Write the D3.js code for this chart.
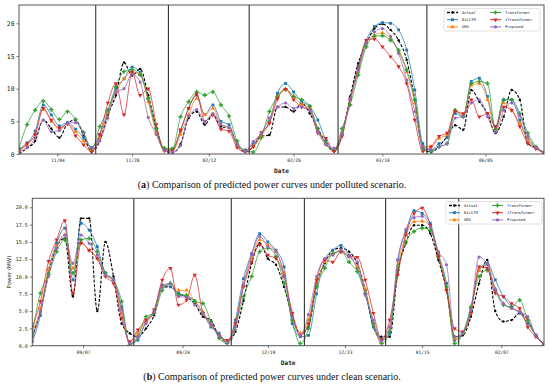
<!DOCTYPE html>
<html>
<head>
<meta charset="utf-8">
<script src="https://cdnjs.cloudflare.com/ajax/libs/d3/7.8.5/d3.min.js"></script>
<style>
  body { margin: 0; background: #fff; }
  svg { display: block; }
</style>
</head>
<body>
<div id="chart"></div>
<script>
var svgWidth = 550;
var svgHeight = 389;

// day labels of each panel
var datesA = ["11/04", "11/28", "02/12", "02/26", "03/10", "06/05"];
var datesB = ["09/07", "09/24", "12/19", "12/23", "01/15", "02/07"];

// (a) polluted scenario, one sub array per day
var actualA = [
  [0.0, 0.9, 2.0, 5.2, 3.9, 2.5, 4.7, 5.2, 2.8, 0.4],
  [2.0, 6.0, 9.0, 14.0, 12.0, 13.0, 9.0, 4.0, 0.5],
  [0.2, 1.5, 5.5, 6.5, 4.5, 6.0, 4.2, 4.0, 1.5, 0.3],
  [1.1, 2.7, 2.9, 7.2, 7.2, 6.5, 7.8, 6.2, 3.9, 1.6, 0.4],
  [3.0, 8.8, 13.9, 16.9, 19.2, 19.9, 19.0, 17.4, 14.4, 8.3, 0.9],
  [0.3, 1.1, 2.7, 4.4, 3.7, 9.8, 8.0, 6.2, 3.2, 5.7, 9.8, 8.3, 1.6, 1.0, 0.2]
];
var bilstmA = [
  [0.8, 1.7, 3.5, 7.5, 6.0, 4.3, 4.8, 3.8, 2.5, 1.0],
  [3.0, 6.5, 10.0, 11.5, 13.3, 12.5, 8.5, 3.5, 0.7],
  [0.8, 3.5, 7.0, 9.0, 6.0, 7.5, 5.0, 4.5, 1.5, 0.6],
  [1.6, 3.1, 5.0, 9.3, 10.8, 9.5, 8.0, 7.3, 5.2, 2.1, 0.6],
  [3.2, 8.5, 13.4, 17.4, 19.5, 20.1, 20.0, 19.0, 15.9, 9.8, 1.6],
  [0.6, 1.6, 2.5, 6.2, 5.7, 11.1, 11.6, 8.8, 4.2, 8.3, 8.3, 5.2, 2.2, 1.0, 0.2]
];
var gruA = [
  [0.5, 1.4, 3.0, 6.8, 5.0, 3.8, 4.6, 3.4, 2.0, 0.6],
  [2.5, 6.3, 9.5, 11.5, 12.5, 12.2, 8.0, 3.2, 0.6],
  [0.5, 3.0, 6.0, 8.5, 6.0, 7.0, 4.5, 4.0, 1.5, 0.5],
  [1.2, 2.8, 4.8, 8.8, 9.9, 8.8, 7.6, 7.0, 3.6, 1.6, 0.5],
  [3.2, 8.3, 12.6, 17.0, 18.2, 18.5, 17.7, 15.7, 12.6, 7.8, 1.1],
  [1.1, 2.4, 2.9, 6.7, 5.9, 10.5, 10.8, 8.3, 3.9, 7.8, 6.7, 4.7, 2.1, 1.0, 0.2]
];
var transA = [
  [0.9, 4.5, 6.7, 8.1, 6.8, 5.3, 6.5, 5.3, 3.3, 0.8],
  [4.2, 6.7, 10.3, 12.6, 12.9, 12.1, 8.5, 3.9, 0.9],
  [0.8, 5.7, 8.0, 9.5, 9.0, 9.5, 7.5, 5.8, 2.0, 0.5],
  [0.3, 2.5, 6.5, 8.8, 9.9, 8.8, 8.3, 7.3, 3.9, 1.6, 0.5],
  [3.9, 7.5, 12.1, 16.4, 18.0, 18.1, 17.4, 15.9, 12.9, 8.3, 0.9],
  [0.4, 1.1, 1.6, 6.7, 5.7, 10.8, 11.1, 10.8, 3.7, 8.3, 8.3, 6.2, 3.2, 1.1, 0.2]
];
var itransA = [
  [0.5, 1.6, 3.0, 7.0, 5.2, 4.0, 4.6, 2.8, 1.4, 0.3],
  [3.0, 7.8, 10.8, 6.0, 12.5, 9.0, 10.0, 4.5, 0.5],
  [0.5, 3.7, 7.0, 9.2, 5.0, 6.0, 3.8, 3.5, 1.0, 0.3],
  [1.1, 3.3, 4.7, 8.4, 9.9, 8.3, 7.2, 6.7, 3.2, 2.4, 0.4],
  [2.7, 8.3, 13.1, 17.4, 17.6, 16.4, 14.9, 13.4, 10.8, 5.2, 0.4],
  [1.1, 2.7, 3.2, 6.5, 6.2, 8.3, 5.7, 6.2, 4.2, 7.2, 6.7, 4.2, 1.6, 0.8, 0.1]
];
var propA = [
  [0.3, 1.0, 2.4, 5.2, 3.4, 3.6, 4.7, 4.8, 3.1, 0.9],
  [2.0, 5.5, 9.5, 10.0, 12.2, 11.0, 5.6, 3.0, 0.5],
  [0.3, 1.3, 5.8, 6.8, 5.0, 6.2, 4.5, 4.0, 1.5, 0.4],
  [1.9, 3.2, 5.5, 7.2, 7.8, 7.0, 7.2, 6.7, 3.4, 1.4, 0.9],
  [3.0, 8.3, 12.9, 17.0, 18.7, 19.2, 18.0, 15.4, 11.3, 6.5, 1.1],
  [0.6, 1.1, 1.6, 5.5, 5.7, 7.8, 8.3, 5.7, 3.4, 6.7, 7.8, 5.9, 2.7, 1.0, 0.2]
];

// (b) clean scenario
var actualB = [
  [1.3, 5.0, 10.5, 14.3, 15.5, 7.1, 18.4, 18.4, 5.0, 15.0, 10.0, 3.2, 1.8],
  [1.3, 2.5, 4.4, 8.5, 8.5, 7.6, 7.0, 6.1, 4.2, 3.7, 1.3, 0.6],
  [2.0, 6.5, 11.9, 14.8, 12.6, 11.7, 8.5, 4.4, 1.7],
  [2.7, 9.0, 11.9, 13.8, 14.1, 13.6, 11.9, 8.0, 2.7, 1.3],
  [1.3, 10.7, 14.8, 17.4, 17.4, 16.2, 12.4, 8.0, 1.3],
  [1.5, 4.2, 9.0, 12.4, 5.0, 3.5, 3.7, 4.7, 3.7, 1.5, 0.2]
];
var bilstmB = [
  [0.6, 4.4, 11.0, 14.8, 17.0, 9.5, 17.7, 16.7, 14.3, 10.5, 9.5, 5.6, 0.3],
  [0.8, 3.5, 4.9, 8.8, 8.5, 7.6, 7.1, 6.5, 4.7, 2.7, 1.8, 0.5],
  [3.7, 9.7, 13.3, 16.2, 15.0, 13.8, 11.4, 3.2, 1.3],
  [1.5, 7.5, 12.4, 13.8, 14.5, 13.1, 11.2, 7.6, 2.7, 0.8],
  [1.8, 12.4, 16.5, 19.5, 19.1, 17.7, 13.3, 9.0, 0.8],
  [1.8, 5.4, 10.9, 11.9, 9.5, 7.1, 5.6, 4.7, 3.2, 1.5, 0.2]
];
var gruB = [
  [1.8, 5.4, 11.0, 14.3, 16.0, 11.2, 15.0, 13.8, 12.6, 10.2, 9.5, 4.7, 0.3],
  [1.8, 3.5, 4.9, 8.5, 9.0, 8.0, 8.0, 6.4, 4.9, 3.0, 1.5, 0.5],
  [3.2, 8.8, 12.6, 15.3, 14.6, 13.6, 10.5, 4.7, 1.8],
  [3.7, 8.8, 12.1, 13.3, 13.8, 12.9, 11.4, 8.2, 3.2, 0.6],
  [2.7, 11.5, 16.0, 17.9, 18.0, 17.2, 13.1, 8.2, 1.0],
  [1.8, 4.9, 10.9, 11.7, 8.2, 6.1, 5.4, 4.9, 3.7, 1.5, 0.2]
];
var transB = [
  [1.8, 7.6, 10.3, 13.6, 15.3, 10.5, 15.3, 15.5, 13.6, 10.5, 9.5, 6.4, 0.1],
  [1.3, 4.2, 4.7, 8.0, 9.0, 7.3, 7.3, 6.4, 6.1, 3.5, 1.1, 0.3],
  [2.7, 7.1, 10.0, 13.6, 14.1, 12.9, 9.0, 3.7, 0.3],
  [2.5, 8.5, 11.2, 13.3, 13.6, 12.1, 10.7, 7.5, 3.2, 0.3],
  [2.0, 10.9, 15.0, 16.5, 17.0, 16.7, 12.9, 8.5, 0.3],
  [1.8, 5.6, 10.0, 10.9, 8.0, 5.9, 5.6, 6.6, 3.7, 1.5, 0.2]
];
var itransB = [
  [2.7, 6.4, 12.2, 15.3, 18.1, 7.6, 14.8, 13.8, 12.6, 10.0, 9.0, 4.0, 0.6],
  [2.3, 3.7, 5.2, 9.5, 11.2, 5.9, 6.6, 10.2, 4.7, 3.2, 1.5, 0.8],
  [3.2, 8.5, 12.1, 14.6, 13.1, 12.6, 10.0, 4.7, 1.5],
  [3.2, 9.5, 12.4, 12.1, 13.6, 12.9, 12.8, 9.5, 4.7, 0.9],
  [3.7, 10.2, 16.0, 19.1, 19.9, 17.4, 12.9, 8.0, 2.5],
  [2.0, 4.7, 11.4, 11.2, 7.6, 7.1, 6.1, 5.4, 2.7, 1.3, 0.2]
];
var propB = [
  [1.1, 4.9, 10.0, 14.1, 16.0, 11.9, 16.0, 14.8, 13.1, 10.2, 9.5, 5.2, 0.3],
  [1.3, 3.2, 4.9, 8.5, 9.0, 7.1, 7.0, 5.9, 4.7, 3.2, 1.5, 0.5],
  [2.7, 8.8, 13.1, 15.8, 14.3, 13.6, 10.2, 4.2, 1.5],
  [4.5, 10.0, 12.6, 13.1, 13.8, 12.9, 12.1, 7.3, 3.7, 0.7],
  [2.7, 12.4, 16.8, 18.5, 18.7, 17.2, 13.6, 11.7, 1.3],
  [1.8, 5.2, 12.8, 11.7, 8.2, 6.1, 5.4, 4.9, 4.2, 1.5, 0.2]
];

var seriesNames = ["Actual", "BiLSTM", "GRU", "Transformer", "iTransformer", "Proposed"];
var yTicksA = [0, 5, 10, 15, 20];
var yTicksB = [0, 2.5, 5, 7.5, 10, 12.5, 15, 17.5, 20];

// look of each series
var looks = {
  "Actual":       { color: "#000000", symbol: d3.symbolCircle,   size: 4.5, dash: "3,1.6", width: 1.1 },
  "BiLSTM":       { color: "#1f77b4", symbol: d3.symbolSquare,   size: 8,   dash: null,    width: 0.75 },
  "GRU":          { color: "#ff7f0e", symbol: d3.symbolTriangle, size: 8,   dash: null,    width: 0.75 },
  "Transformer":  { color: "#2ca02c", symbol: d3.symbolCross,    size: 10,  dash: null,    width: 0.75 },
  "iTransformer": { color: "#d62728", symbol: d3.symbolTriangle, size: 8,   dash: null,    width: 0.75, flip: true },
  "Proposed":     { color: "#9467bd", symbol: d3.symbolCircle,   size: 8,   dash: null,    width: 0.75 }
};

var tickFont = "DejaVu Sans Mono, monospace";

var svg = d3.select("#chart")
  .append("svg")
  .attr("width", svgWidth)
  .attr("height", svgHeight);

function drawPanel(cfg, id) {
  var counts = cfg.data[0].map(function(d) { return d.length; });
  var n = d3.sum(counts);

  var xScale = d3.scaleLinear()
    .domain([0, n - 1])
    .range([cfg.left, cfg.right]);
  var yScale = d3.scaleLinear()
    .domain([0, cfg.yMax])
    .range([cfg.bottom, cfg.top]);

  var g = svg.append("g");

  g.append("clipPath").attr("id", "clip" + id)
    .append("rect")
    .attr("x", cfg.left).attr("y", cfg.top)
    .attr("width", cfg.right - cfg.left)
    .attr("height", cfg.bottom - cfg.top);

  // day boundaries and centres, in index units
  var starts = [];
  var acc = 0;
  counts.forEach(function(c) { starts.push(acc); acc += c; });
  var breaks = starts.slice(1).map(function(s) { return s - 0.5; });
  var centres = starts.map(function(s, i) {
    var a = Math.max(0, s - 0.5);
    var b = Math.min(n - 1, s + counts[i] - 0.5);
    return (a + b) / 2;
  });

  // axes
  var bottomAxis = d3.axisBottom(xScale)
    .tickValues(centres)
    .tickFormat(function(d, i) { return cfg.dates[i]; })
    .tickSizeOuter(0).tickSizeInner(2.5).tickPadding(2.5);
  var leftAxis = d3.axisLeft(yScale)
    .tickValues(cfg.yTicks)
    .tickFormat(cfg.yFormat)
    .tickSizeOuter(0).tickSizeInner(2.5).tickPadding(2);

  var xa = g.append("g")
    .attr("transform", "translate(0," + cfg.bottom + ")")
    .call(bottomAxis);
  xa.select(".domain").remove();
  xa.selectAll("line").attr("stroke", "#444").attr("stroke-width", 0.7);
  xa.selectAll("text").attr("font-family", tickFont).attr("font-size", 4.6).attr("fill", "#222");

  var ya = g.append("g")
    .attr("transform", "translate(" + cfg.left + ",0)")
    .call(leftAxis);
  ya.select(".domain").remove();
  ya.selectAll("line").attr("stroke", "#444").attr("stroke-width", 0.7);
  ya.selectAll("text").attr("font-family", tickFont).attr("font-size", cfg.yFont).attr("fill", "#222");

  // lines and markers
  var line = d3.line()
    .x(function(d) { return xScale(d.i); })
    .y(function(d) { return yScale(d.v); })
    .curve(d3.curveMonotoneX);

  var plot = g.append("g").attr("clip-path", "url(#clip" + id + ")");

  seriesNames.forEach(function(name, k) {
    var look = looks[name];
    var pts = d3.merge(cfg.data[k]).map(function(v, i) { return { i: i, v: v }; });
    plot.append("path")
      .datum(pts)
      .attr("fill", "none")
      .attr("stroke", look.color)
      .attr("stroke-width", look.width)
      .attr("stroke-dasharray", look.dash)
      .attr("d", line);
    plot.selectAll(null)
      .data(pts)
      .enter()
      .append("path")
      .attr("d", d3.symbol().type(look.symbol).size(look.size))
      .attr("transform", function(d) {
        return "translate(" + xScale(d.i) + "," + yScale(d.v) + ")" + (look.flip ? " rotate(180)" : "");
      })
      .attr("fill", look.color);
  });

  // day separators
  g.selectAll(null)
    .data(breaks)
    .enter()
    .append("line")
    .attr("x1", function(d) { return xScale(d); })
    .attr("x2", function(d) { return xScale(d); })
    .attr("y1", cfg.top)
    .attr("y2", cfg.bottom)
    .attr("stroke", "#333")
    .attr("stroke-width", 1.1);

  // frame
  g.append("rect")
    .attr("x", cfg.left).attr("y", cfg.top)
    .attr("width", cfg.right - cfg.left)
    .attr("height", cfg.bottom - cfg.top)
    .attr("fill", "none")
    .attr("stroke", "#555")
    .attr("stroke-width", 1);

  // x label
  g.append("text")
    .attr("x", (cfg.left + cfg.right) / 2)
    .attr("y", cfg.bottom + 19)
    .attr("text-anchor", "middle")
    .attr("font-family", tickFont)
    .attr("font-weight", "bold")
    .attr("font-size", 6.2)
    .attr("fill", "#222")
    .text("Date");

  // legend
  var lg = g.append("g").attr("transform", "translate(" + cfg.legX + "," + cfg.legY + ")");
  lg.append("rect")
    .attr("x", 0).attr("y", 0)
    .attr("width", 96).attr("height", 22.5)
    .attr("rx", 1.5)
    .attr("fill", "white").attr("fill-opacity", 0.8)
    .attr("stroke", "#ccc").attr("stroke-width", 0.6);
  seriesNames.forEach(function(name, k) {
    var look = looks[name];
    var col = Math.floor(k / 3), row = k % 3;
    var lx = 3 + col * 43, ly = 4 + row * 7.2;
    lg.append("line")
      .attr("x1", lx).attr("x2", lx + 11)
      .attr("y1", ly).attr("y2", ly)
      .attr("stroke", look.color)
      .attr("stroke-width", look.width + 0.2)
      .attr("stroke-dasharray", look.dash);
    lg.append("path")
      .attr("d", d3.symbol().type(look.symbol).size(look.size))
      .attr("transform", "translate(" + (lx + 5.5) + "," + ly + ")" + (look.flip ? " rotate(180)" : ""))
      .attr("fill", look.color);
    lg.append("text")
      .attr("x", lx + 15)
      .attr("y", ly + 1.3)
      .attr("font-family", tickFont)
      .attr("font-size", 3.8)
      .attr("fill", "#222")
      .text(name);
  });

  // caption
  var cap = svg.append("text")
    .attr("x", 272)
    .attr("y", cfg.captionY)
    .attr("text-anchor", "middle")
    .attr("font-family", "Liberation Serif, serif")
    .attr("font-size", 10)
    .attr("fill", "#111");
  cap.append("tspan").text("(");
  cap.append("tspan").attr("font-weight", "bold").text(cfg.letter);
  cap.append("tspan").text(") " + cfg.caption);
}

drawPanel({
  left: 19, right: 544, top: 5, bottom: 154, yMax: 22.8,
  yTicks: yTicksA, yFormat: d3.format("d"), yFont: 6.4,
  dates: datesA,
  data: [actualA, bilstmA, gruA, transA, itransA, propA],
  legX: 444, legY: 8.5,
  captionY: 188, letter: "a",
  caption: "Comparison of predicted power curves under polluted scenario."
}, "A");

drawPanel({
  left: 32.3, right: 544, top: 198.3, bottom: 345.7, yMax: 21.3,
  yTicks: yTicksB, yFormat: d3.format(".1f"), yFont: 5,
  dates: datesB,
  data: [actualB, bilstmB, gruB, transB, itransB, propB],
  legX: 446, legY: 201.5,
  captionY: 380, letter: "b",
  caption: "Comparison of predicted power curves under clean scenario."
}, "B");

// y label of the lower panel
svg.append("text")
  .attr("transform", "translate(11," + 272 + ") rotate(-90)")
  .attr("text-anchor", "middle")
  .attr("font-family", "DejaVu Sans, sans-serif")
  .attr("font-size", 5.5)
  .attr("fill", "#222")
  .text("Power (MW)");
</script>
</body>
</html>
